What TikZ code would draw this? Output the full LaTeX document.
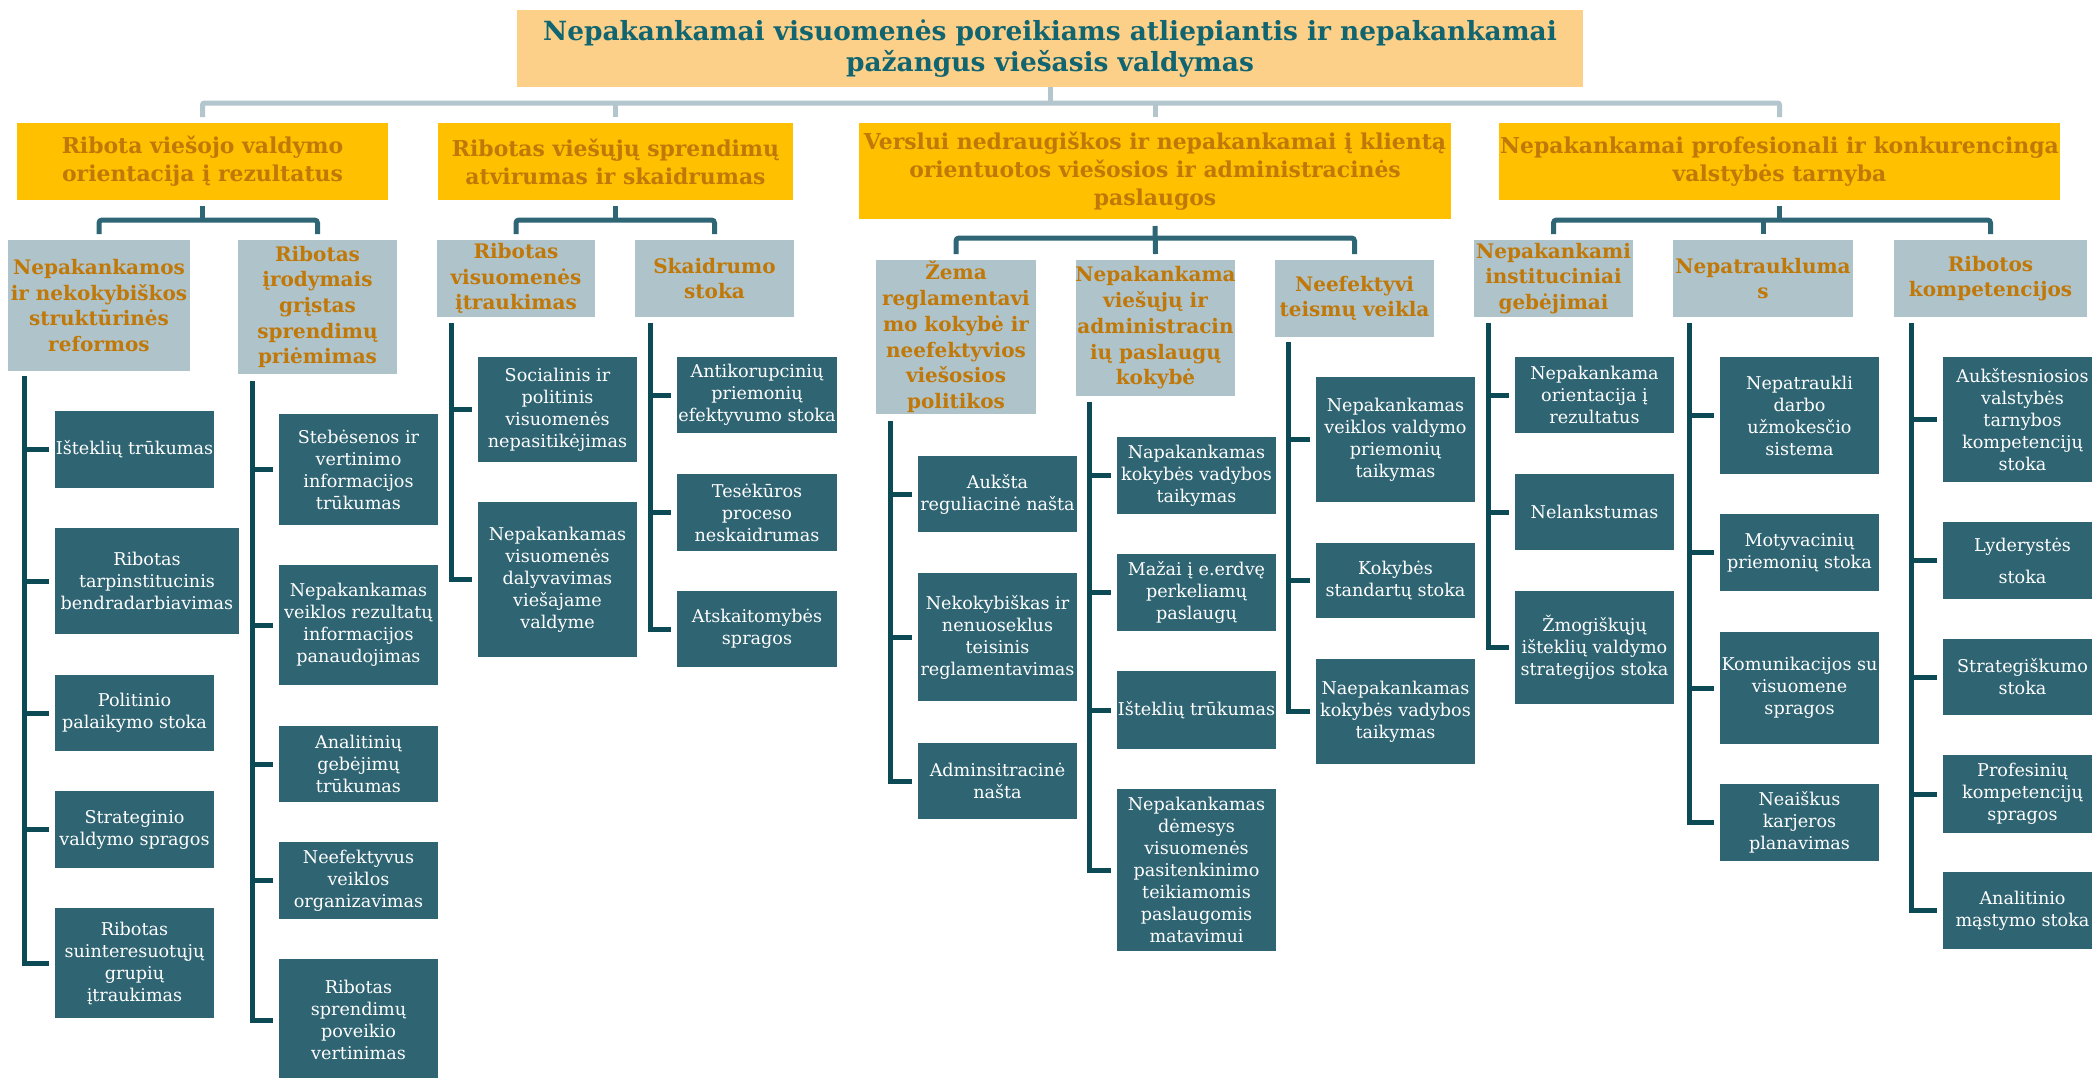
\documentclass[tikz,border=0pt]{standalone}
\usepackage{fontspec}
\setmainfont{DejaVu Serif}
\usetikzlibrary{calc}

\definecolor{topfill}{HTML}{FCD088}
\definecolor{catfill}{HTML}{FFC000}
\definecolor{subfill}{HTML}{AFC3CA}
\definecolor{leaffill}{HTML}{2F6472}
\definecolor{toptxt}{HTML}{116570}
\definecolor{cattxt}{HTML}{C07808}
\definecolor{busgray}{HTML}{B3C6CD}
\definecolor{branchteal}{HTML}{2F6675}
\definecolor{treeteal}{HTML}{0C4A55}

\tikzset{
  base/.style={inner sep=0pt, outer sep=0pt, draw=none},
  topbox/.style={base, fill=topfill},
  catbox/.style={base, fill=catfill},
  subbox/.style={base, fill=subfill},
  leafbox/.style={base, fill=leaffill},
  toptext/.style={text=toptxt, font=\bfseries\fontsize{26.4}{31}\selectfont, align=center, inner sep=0pt},
  cattext/.style={text=cattxt, font=\bfseries\fontsize{21.9}{28}\selectfont, align=center, inner sep=0pt},
  subtext/.style={text=cattxt, font=\bfseries\fontsize{20}{25.7}\selectfont, align=center, inner sep=0pt},
  leaftext/.style={text=white, font=\fontsize{17.6}{22}\selectfont, align=center, inner sep=0pt},
  bus/.style={line width=5pt, draw=busgray, rounded corners=2pt},
  branch/.style={line width=5pt, draw=branchteal, rounded corners=3pt},
  tree/.style={line width=5pt, draw=treeteal},
}

% box from corner (x1,y1) to (x2,y2) with centred text
\newcommand\bx[8]{%
  \node[#6, minimum width={(#4)-(#2)}, minimum height={(#5)-(#3)},
        label={[#7]center:{#8}}] (#1) at ({(#2+#4)/2},{(#3+#5)/2}) {};}

\begin{document}
\begin{tikzpicture}[x=1pt, y=-1pt]
\fill[white] (0,0) rectangle (2092,1077);
\useasboundingbox (0,0) rectangle (2092,1077);

% root
\bx{T}{517}{10}{1583}{87}{topbox}{toptext}{Nepakankamai visuomenės poreikiams atliepiantis ir nepakankamai\\pažangus viešasis valdymas}

% main problem areas
\bx{A}{17}{123}{388}{200}{catbox}{cattext}{Ribota viešojo valdymo\\orientacija į rezultatus}
\bx{B}{438}{123}{793}{200}{catbox}{cattext}{Ribotas viešųjų sprendimų\\atvirumas ir skaidrumas}
\bx{C}{859}{123}{1451}{219}{catbox}{cattext}{Verslui nedraugiškos ir nepakankamai į klientą\\orientuotos viešosios ir administracinės\\paslaugos}
\bx{D}{1499}{123}{2060}{200}{catbox}{cattext}{Nepakankamai profesionali ir konkurencinga\\valstybės tarnyba}

% sub-problems
\bx{A1}{8}{240}{190}{371}{subbox}{subtext}{Nepakankamos\\ir nekokybiškos\\struktūrinės\\reformos}
\bx{A2}{238}{240}{397}{374}{subbox}{subtext}{Ribotas\\įrodymais\\grįstas\\sprendimų\\priėmimas}
\bx{B1}{437}{240}{595}{317}{subbox}{subtext}{Ribotas\\visuomenės\\įtraukimas}
\bx{B2}{635}{240}{794}{317}{subbox}{subtext}{Skaidrumo\\stoka}
\bx{C1}{876}{260}{1036}{414}{subbox}{subtext}{Žema\\reglamentavi\\mo kokybė ir\\neefektyvios\\viešosios\\politikos}
\bx{C2}{1076}{260}{1235}{396}{subbox}{subtext}{Nepakankama\\viešųjų ir\\administracin\\ių paslaugų\\kokybė}
\bx{C3}{1275}{260}{1434}{337}{subbox}{subtext}{Neefektyvi\\teismų veikla}
\bx{D1}{1474}{240}{1633}{317}{subbox}{subtext}{Nepakankami\\instituciniai\\gebėjimai}
\bx{D2}{1673}{240}{1853}{317}{subbox}{subtext}{Nepatraukluma\\s}
\bx{D3}{1894}{240}{2087}{317}{subbox}{subtext}{Ribotos\\kompetencijos}

% causes
\bx{a11}{55}{411}{214}{488}{leafbox}{leaftext}{Išteklių trūkumas}
\bx{a12}{55}{528}{239}{634}{leafbox}{leaftext}{Ribotas\\tarpinstitucinis\\bendradarbiavimas}
\bx{a13}{55}{675}{214}{751}{leafbox}{leaftext}{Politinio\\palaikymo stoka}
\bx{a14}{55}{791}{214}{868}{leafbox}{leaftext}{Strateginio\\valdymo spragos}
\bx{a15}{55}{908}{214}{1018}{leafbox}{leaftext}{Ribotas\\suinteresuotųjų\\grupių\\įtraukimas}

\bx{a21}{279}{414}{438}{525}{leafbox}{leaftext}{Stebėsenos ir\\vertinimo\\informacijos\\trūkumas}
\bx{a22}{279}{565}{438}{685}{leafbox}{leaftext}{Nepakankamas\\veiklos rezultatų\\informacijos\\panaudojimas}
\bx{a23}{279}{726}{438}{802}{leafbox}{leaftext}{Analitinių\\gebėjimų\\trūkumas}
\bx{a24}{279}{842}{438}{919}{leafbox}{leaftext}{Neefektyvus\\veiklos\\organizavimas}
\bx{a25}{279}{959}{438}{1081}{leafbox}{leaftext}{Ribotas\\sprendimų\\poveikio\\vertinimas}

\bx{b11}{478}{357}{637}{462}{leafbox}{leaftext}{Socialinis ir\\politinis\\visuomenės\\nepasitikėjimas}
\bx{b12}{478}{502}{637}{657}{leafbox}{leaftext}{Nepakankamas\\visuomenės\\dalyvavimas\\viešajame\\valdyme}

\bx{b21}{677}{357}{837}{433}{leafbox}{leaftext}{Antikorupcinių\\priemonių\\efektyvumo stoka}
\bx{b22}{677}{474}{837}{551}{leafbox}{leaftext}{Tesėkūros\\proceso\\neskaidrumas}
\bx{b23}{677}{591}{837}{667}{leafbox}{leaftext}{Atskaitomybės\\spragos}

\bx{c11}{918}{456}{1077}{532}{leafbox}{leaftext}{Aukšta\\reguliacinė našta}
\bx{c12}{918}{573}{1077}{701}{leafbox}{leaftext}{Nekokybiškas ir\\nenuoseklus\\teisinis\\reglamentavimas}
\bx{c13}{918}{743}{1077}{819}{leafbox}{leaftext}{Adminsitracinė\\našta}

\bx{c21}{1117}{437}{1276}{514}{leafbox}{leaftext}{Napakankamas\\kokybės vadybos\\taikymas}
\bx{c22}{1117}{554}{1276}{631}{leafbox}{leaftext}{Mažai į e.erdvę\\perkeliamų\\paslaugų}
\bx{c23}{1117}{671}{1276}{749}{leafbox}{leaftext}{Išteklių trūkumas}
\bx{c24}{1117}{789}{1276}{951}{leafbox}{leaftext}{Nepakankamas\\dėmesys\\visuomenės\\pasitenkinimo\\teikiamomis\\paslaugomis\\matavimui}

\bx{c31}{1316}{377}{1475}{502}{leafbox}{leaftext}{Nepakankamas\\veiklos valdymo\\priemonių\\taikymas}
\bx{c32}{1316}{543}{1475}{618}{leafbox}{leaftext}{Kokybės\\standartų stoka}
\bx{c33}{1316}{659}{1475}{764}{leafbox}{leaftext}{Naepakankamas\\kokybės vadybos\\taikymas}

\bx{d11}{1515}{357}{1674}{433}{leafbox}{leaftext}{Nepakankama\\orientacija į\\rezultatus}
\bx{d12}{1515}{474}{1674}{550}{leafbox}{leaftext}{Nelankstumas}
\bx{d13}{1515}{591}{1674}{704}{leafbox}{leaftext}{Žmogiškųjų\\išteklių valdymo\\strategijos stoka}

\bx{d21}{1720}{357}{1879}{474}{leafbox}{leaftext}{Nepatraukli\\darbo\\užmokesčio\\sistema}
\bx{d22}{1720}{514}{1879}{591}{leafbox}{leaftext}{Motyvacinių\\priemonių stoka}
\bx{d23}{1720}{632}{1879}{744}{leafbox}{leaftext}{Komunikacijos su\\visuomene\\spragos}
\bx{d24}{1720}{784}{1879}{861}{leafbox}{leaftext}{Neaiškus\\karjeros\\planavimas}

\bx{d31}{1943}{357}{2102}{482}{leafbox}{leaftext}{Aukštesniosios\\valstybės\\tarnybos\\kompetencijų\\stoka}
\bx{d32}{1943}{522}{2102}{599}{leafbox}{leaftext}{Lyderystės\\[10pt]stoka}
\bx{d33}{1943}{639}{2102}{715}{leafbox}{leaftext}{Strategiškumo\\stoka}
\bx{d34}{1943}{755}{2102}{833}{leafbox}{leaftext}{Profesinių\\kompetencijų\\spragos}
\bx{d35}{1943}{872}{2102}{949}{leafbox}{leaftext}{Analitinio\\mąstymo stoka}

% root to main areas
\coordinate (hub) at (1050,103);
\draw[bus] (T.south) -- (hub);
\draw[bus] ($(A.north)+(0,-6)$) |- (hub) -| ($(D.north)+(0,-6)$);
\draw[bus] ($(B.north)+(0,-6)$) -- (B.north |- hub);
\draw[bus] ($(C.north)+(0,-6)$) -- (C.north |- hub);

% main areas to sub-problems
\coordinate (Ahub) at ($(A.south)+(0,20)$);
\draw[branch] ($(A.south)+(0,6)$) -- (Ahub);
\draw[branch] ($(A1.north)+(0,-6)$) |- (Ahub) -| ($(A2.north)+(0,-6)$);

\coordinate (Bhub) at ($(B.south)+(0,20)$);
\draw[branch] ($(B.south)+(0,6)$) -- (Bhub);
\draw[branch] ($(B1.north)+(0,-6)$) |- (Bhub) -| ($(B2.north)+(0,-6)$);

\coordinate (Chub) at ($(C.south)+(0,19)$);
\draw[branch] ($(C.south)+(0,7)$) -- ($(C2.north)+(0,-6)$);
\draw[branch] ($(C1.north)+(0,-6)$) |- (Chub) -| ($(C3.north)+(0,-6)$);

\coordinate (Dhub) at ($(D.south)+(0,20)$);
\draw[branch] ($(D.south)+(0,6)$) -- (Dhub);
\draw[branch] ($(D1.north)+(0,-6)$) |- (Dhub) -| ($(D3.north)+(0,-6)$);
\draw[branch] ($(D2.north)+(0,-6)$) -- (D2.north |- Dhub);

% sub-problems to causes
\newcommand\trunk[4]{% top of trunk, last cause, other causes
  \coordinate (#1) at (#2);
  \draw[tree] (#1) |- ($(#3.west)+(-6,0)$);
  \foreach \l in {#4} \draw[tree] (#1 |- \l.west) -- ($(\l.west)+(-6,0)$);}

\trunk{tA1}{24,376}{a15}{a11,a12,a13,a14}
\trunk{tA2}{252,381}{a25}{a21,a22,a23,a24}
\trunk{tB1}{451,323}{b12}{b11}
\trunk{tB2}{650,323}{b23}{b21,b22}
\trunk{tC1}{890,421}{c13}{c11,c12}
\trunk{tC2}{1089,402}{c24}{c21,c22,c23}
\trunk{tC3}{1288,342}{c33}{c31,c32}
\trunk{tD1}{1488,323}{d13}{d11,d12}
\trunk{tD2}{1689,323}{d24}{d21,d22,d23}
\trunk{tD3}{1911,323}{d35}{d31,d32,d33,d34}
\end{tikzpicture}
\end{document}
